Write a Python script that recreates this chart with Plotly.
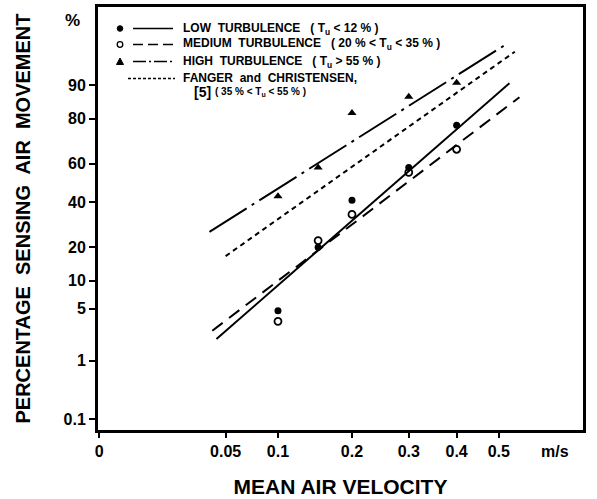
import math
from statistics import NormalDist
import plotly.graph_objects as go

# ---------------- data ----------------
velocity = [0.1, 0.15, 0.2, 0.3, 0.4]          # m/s
low_pct = [4.7, 20, 41, 58, 77.5]               # low turbulence, filled circles
medium_pct = [3.5, 22.5, 34, 55.5, 67]          # medium turbulence, open circles
high_pct = [43, 58, 82, 87, 90.5]               # high turbulence, triangles

# regression lines (end points)
low_line_v = [0.043, 0.527]
low_line_p = [2.05, 90.4]
medium_line_v = [0.040, 0.553]
medium_line_p = [2.65, 86.9]
high_line_v = [0.038, 0.518]
high_line_p = [26.1, 96.5]
fanger_line_v = [0.050, 0.541]
fanger_line_p = [16.9, 95.7]

x_ticks = [0, 0.05, 0.1, 0.2, 0.3, 0.4, 0.5]
x_tick_text = ["0", "0.05", "0.1", "0.2", "0.3", "0.4", "0.5"]
y_ticks = [0.1, 1, 5, 10, 20, 40, 60, 80, 90]
y_tick_text = ["0.1", "1", "5", "10", "20", "40", "60", "80", "90"]

# ---------------- scales ----------------
ND = NormalDist()


def sx(v):
    return [math.sqrt(a) for a in v]


def sy(p):
    return [ND.inv_cdf(a / 100.0) for a in p]


W, H = 597, 499
L, R, T, B = 97, 13, 6, 68
PW, PH = W - L - R, H - T - B


def px(x):
    return (x - L) / PW


def py(y):
    return (H - B - y) / PH


FONT = "Liberation Sans, Arial, sans-serif"
INK = "black"

fig = go.Figure()

fig.add_trace(go.Scatter(x=sx(fanger_line_v), y=sy(fanger_line_p), mode="lines",
                         line=dict(color=INK, width=2, dash="5px,4px"), showlegend=False))
fig.add_trace(go.Scatter(x=sx(high_line_v), y=sy(high_line_p), mode="lines",
                         line=dict(color=INK, width=2, dash="44px,6px,3px,6px"), showlegend=False))
fig.add_trace(go.Scatter(x=sx(medium_line_v), y=sy(medium_line_p), mode="lines",
                         line=dict(color=INK, width=2, dash="13px,8px"), showlegend=False))
fig.add_trace(go.Scatter(x=sx(low_line_v), y=sy(low_line_p), mode="lines",
                         line=dict(color=INK, width=2), showlegend=False))

fig.add_trace(go.Scatter(x=sx(velocity), y=sy(low_pct), mode="markers",
                         marker=dict(symbol="circle", size=7, color=INK), showlegend=False))
fig.add_trace(go.Scatter(x=sx(velocity), y=sy(medium_pct), mode="markers",
                         marker=dict(symbol="circle-open", size=7, color=INK, line=dict(width=1.8)),
                         showlegend=False))
fig.add_trace(go.Scatter(x=sx(velocity), y=sy(high_pct), mode="markers",
                         marker=dict(symbol="triangle-up", size=8, color=INK), showlegend=False))

shapes = []
annotations = []

# plot frame
shapes.append(dict(type="rect", xref="paper", yref="paper", x0=0, x1=1, y0=0, y1=1,
                   line=dict(color=INK, width=2)))

# ---------------- legend (drawn manually) ----------------
rows = [28.5, 44.5, 61.5, 78.5]
mx = 120
r = 2.8
shapes.append(dict(type="circle", xref="paper", yref="paper",
                   x0=px(mx - r), x1=px(mx + r), y0=py(rows[0] + r), y1=py(rows[0] - r),
                   fillcolor=INK, line=dict(color=INK, width=1)))
shapes.append(dict(type="circle", xref="paper", yref="paper",
                   x0=px(mx - r), x1=px(mx + r), y0=py(rows[1] + r), y1=py(rows[1] - r),
                   fillcolor="white", line=dict(color=INK, width=1.3)))
ty = rows[2]
shapes.append(dict(type="path", xref="paper", yref="paper",
                   path=f"M {px(mx-3.5)} {py(ty+3)} L {px(mx+3.5)} {py(ty+3)} L {px(mx)} {py(ty-3.5)} Z",
                   fillcolor=INK, line=dict(color=INK, width=1)))
samples = [(133, 173, "solid"), (133, 173, "10px,5px"), (133, 173, "13px,3px,2px,3px"), (128, 175, "3px,2px")]
for (a, b, d), yy in zip(samples, rows):
    shapes.append(dict(type="line", xref="paper", yref="paper",
                       x0=px(a), x1=px(b), y0=py(yy), y1=py(yy),
                       line=dict(color=INK, width=1.6, dash=d)))

legend_text = [
    "<b>LOW  TURBULENCE&nbsp;&nbsp;&nbsp;( T<sub>u</sub> &lt; 12 % )</b>",
    "<b>MEDIUM  TURBULENCE&nbsp;&nbsp;&nbsp;( 20 % &lt; T<sub>u</sub> &lt; 35 % )</b>",
    "<b>HIGH  TURBULENCE&nbsp;&nbsp;&nbsp;( T<sub>u</sub> &gt; 55 % )</b>",
    "<b>FANGER  and  CHRISTENSEN,</b>",
]
for t, yy in zip(legend_text, rows):
    annotations.append(dict(text=t, xref="paper", yref="paper", x=px(181), y=py(yy),
                            xanchor="left", yanchor="middle", showarrow=False,
                            font=dict(family=FONT, size=12, color=INK)))
annotations.append(dict(text="<b>[5]</b>", xref="paper", yref="paper", x=px(192), y=py(92),
                        xanchor="left", yanchor="middle", showarrow=False,
                        font=dict(family=FONT, size=14, color=INK)))
annotations.append(dict(text="<b>( 35 % &lt; T<sub>u</sub> &lt; 55 % )</b>", xref="paper", yref="paper",
                        x=px(213), y=py(92), xanchor="left", yanchor="middle", showarrow=False,
                        font=dict(family=FONT, size=10, color=INK)))

annotations.append(dict(text="<b>%</b>", xref="paper", yref="paper", x=px(72), y=py(20),
                        xanchor="center", yanchor="middle", showarrow=False,
                        font=dict(family=FONT, size=17, color=INK)))
annotations.append(dict(text="<b>m/s</b>", xref="paper", yref="paper", x=px(555), y=py(452),
                        xanchor="center", yanchor="middle", showarrow=False,
                        font=dict(family=FONT, size=16, color=INK)))

fig.update_layout(
    width=W, height=H,
    margin=dict(l=L, r=R, t=T, b=B, autoexpand=False),
    paper_bgcolor="white", plot_bgcolor="white",
    font=dict(family=FONT, color=INK),
    shapes=shapes, annotations=annotations,
    showlegend=False,
)

fig.update_xaxes(
    range=[-0.0041, 0.8579], tickmode="array",
    tickvals=sx(x_ticks), ticktext=[f"<b>{t}</b>" for t in x_tick_text],
    ticks="outside", ticklen=5, tickwidth=2, tickcolor=INK,
    tickfont=dict(family=FONT, size=16, color=INK),
    showgrid=False, zeroline=False, showline=True, linecolor=INK, linewidth=2, mirror=True,
    automargin=False,
    title=dict(text="<b>MEAN AIR VELOCITY</b>", font=dict(family=FONT, size=21, color=INK), standoff=20),
)
fig.update_yaxes(
    range=[-3.247, 2.315], tickmode="array",
    tickvals=sy(y_ticks), ticktext=[f"<b>{t}</b>" for t in y_tick_text],
    ticks="outside", ticklen=6, tickwidth=2, tickcolor=INK,
    tickfont=dict(family=FONT, size=16, color=INK),
    showgrid=False, zeroline=False, showline=True, linecolor=INK, linewidth=2, mirror=True,
    automargin=False,
    title=dict(text="<b>PERCENTAGE  SENSING  AIR  MOVEMENT</b>", font=dict(family=FONT, size=20, color=INK),
               standoff=28),
)

fig.write_html("out.html", post_script="document.body.style.margin='0';",
               config={"displayModeBar": False})
